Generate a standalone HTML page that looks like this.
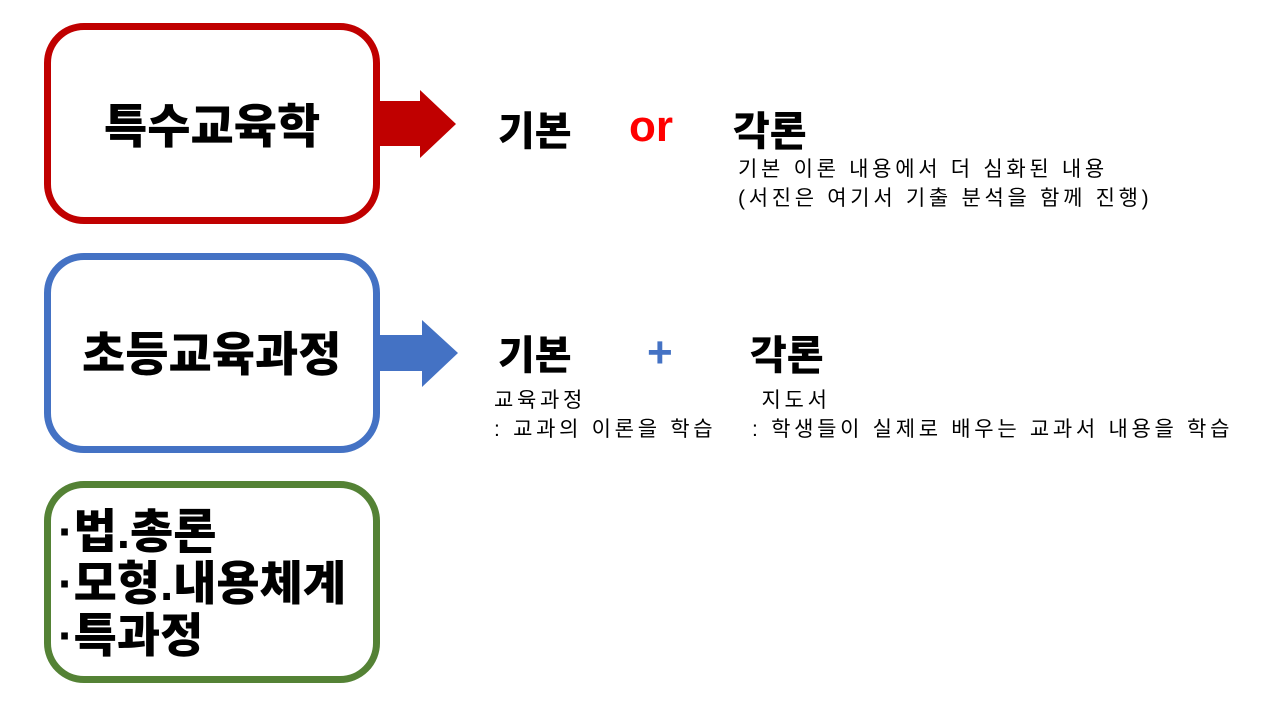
<!DOCTYPE html>
<html><head><meta charset="utf-8"><style>
body{margin:0;width:1280px;height:720px;background:#fff;position:relative;overflow:hidden;font-family:"Liberation Sans","Noto Sans CJK KR",sans-serif;}
.box{position:absolute;left:44px;width:322px;border-width:7px;border-style:solid;border-radius:40px;background:#fff;}
.t{position:absolute;white-space:nowrap;color:#000;}
.big{font-weight:900;font-size:47px;}
.mid{font-weight:900;font-size:40px;}
.sm{font-size:21px;line-height:29px;letter-spacing:3.7px;}
</style></head><body>
<div class="box" style="top:23px;height:187px;border-color:#c00000"></div>
<div class="box" style="top:253px;height:186px;border-color:#4472c4"></div>
<div class="box" style="top:481px;height:188px;border-color:#548235"></div>
<svg width="1280" height="720" style="position:absolute;left:0;top:0">
<polygon points="380,101 420,101 420,90 456,124 420,158 420,146 380,146" fill="#c00000"/>
<polygon points="380,335 422,335 422,320 458,353 422,387 422,371 380,371" fill="#4472c4"/>
</svg>
<div class="t big" style="left:104px;top:88px">특수교육학</div>
<div class="t big" style="left:82px;top:316px">초등교육과정</div>
<div class="t big" style="left:58px;top:506px;line-height:52px">·법.총론<br>·모형.내용체계<br>·특과정</div>
<div class="t mid" style="left:498px;top:99px">기본</div>
<div class="t mid" style="left:629px;top:102px;color:#ff0000;font-size:44px">or</div>
<div class="t mid" style="left:733px;top:99px">각론</div>
<div class="t sm" style="left:738px;top:155px">기본 이론 내용에서 더 심화된 내용<br>(서진은 여기서 기출 분석을 함께 진행)</div>
<div class="t mid" style="left:498px;top:323px">기본</div>
<div class="t mid" style="left:647px;top:328px;color:#4472c4;font-size:44px">+</div>
<div class="t mid" style="left:750px;top:323px">각론</div>
<div class="t sm" style="left:494px;top:386px">교육과정<br>: 교과의 이론을 학습</div>
<div class="t sm" style="left:752px;top:386px">&nbsp;지도서<br>: 학생들이 실제로 배우는 교과서 내용을 학습</div>
</body></html>
